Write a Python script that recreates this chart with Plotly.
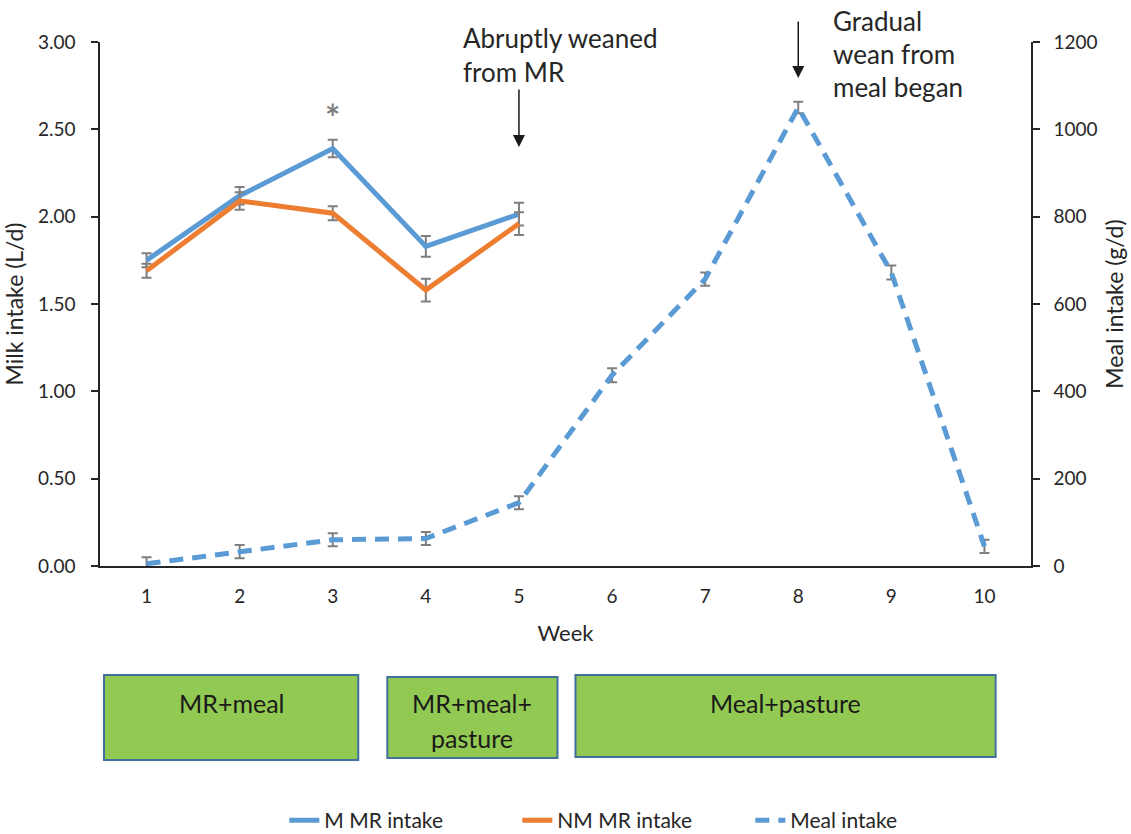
import plotly.graph_objects as go

# Weekly intake data
weeks_mr = [1, 2, 3, 4, 5]
m_mr = [1.75, 2.12, 2.39, 1.83, 2.015]
m_mr_se = [0.04, 0.05, 0.05, 0.06, 0.065]
nm_mr = [1.69, 2.09, 2.02, 1.58, 1.96]
nm_mr_se = [0.04, 0.05, 0.04, 0.065, 0.065]

weeks_meal = [1, 2, 3, 4, 5, 6, 7, 8, 9, 10]
meal = [5, 33, 60, 63, 145, 437, 657, 1050, 672, 45]
meal_se = [15, 15, 15, 15, 15, 16, 15, 13, 16, 15]

week_ticks = [1, 2, 3, 4, 5, 6, 7, 8, 9, 10]
milk_ticks = [0, 0.5, 1.0, 1.5, 2.0, 2.5, 3.0]
meal_ticks = [0, 200, 400, 600, 800, 1000, 1200]

BLUE = "#5B9BD5"
ORANGE = "#ED7D31"
GREY = "#7F7F7F"
TXT = "#262626"
FONT = "Lato"

PLOT_TOP, PLOT_BOTTOM = 42, 566
PLOT_H = PLOT_BOTTOM - PLOT_TOP


def py(pix):
    # vertical pixel position -> fraction of the plotting area height
    return (PLOT_BOTTOM - pix) / PLOT_H


# Feeding phases shown under the chart: week span, top/bottom pixel rows, label lines
phases = [
    (0.543, 3.274, 675, 760, ["MR+meal"]),
    (3.586, 5.414, 677, 758, ["MR+meal+", "pasture"]),
    (5.607, 10.12, 675, 757, ["Meal+pasture"]),
]

fig = go.Figure()

err_style = dict(type="data", color=GREY, thickness=2, width=5)

fig.add_trace(go.Scatter(
    x=weeks_mr, y=m_mr, name="M MR intake", mode="lines",
    line=dict(color=BLUE, width=5),
    error_y=dict(array=m_mr_se, **err_style),
))
fig.add_trace(go.Scatter(
    x=weeks_mr, y=nm_mr, name="NM MR intake", mode="lines",
    line=dict(color=ORANGE, width=5),
    error_y=dict(array=nm_mr_se, **err_style),
))
fig.add_trace(go.Scatter(
    x=weeks_meal, y=meal, name="Meal intake", mode="lines", yaxis="y2",
    line=dict(color=BLUE, width=5, dash="14px,9px"),
    error_y=dict(array=meal_se, **err_style),
))

shapes = []
annotations = []
for x0, x1, top, bottom, lines in phases:
    shapes.append(dict(
        type="rect", xref="x", yref="paper", x0=x0, x1=x1, y0=py(top), y1=py(bottom),
        fillcolor="#92C953", line=dict(color="#41719C", width=2), layer="above",
    ))
    for i, line in enumerate(lines):
        annotations.append(dict(
            x=(x0 + x1) / 2, y=py(703 + 35 * i), xref="x", yref="paper",
            text=line, showarrow=False, xanchor="center", yanchor="middle",
            font=dict(family=FONT, size=25, color="#1a1a1a"),
        ))

# Event markers
note_font = dict(family=FONT, size=26, color=TXT)
annotations += [
    dict(x=3, y=py(117), xref="x", yref="paper", text="<b>*</b>", showarrow=False,
         yanchor="middle", font=dict(family=FONT, size=36, color=GREY)),
    dict(x=4.38, y=py(38), xref="x", yref="paper", text="Abruptly weaned",
         showarrow=False, xanchor="left", yanchor="middle", font=note_font),
    dict(x=4.38, y=py(72), xref="x", yref="paper", text="from MR",
         showarrow=False, xanchor="left", yanchor="middle", font=note_font),
    dict(x=5, y=py(147), xref="x", yref="y domain", text="",
         ax=5, ay=py(88), axref="x", ayref="y domain",
         showarrow=True, arrowhead=2, arrowsize=1.6, arrowwidth=1.5, arrowcolor="#1a1a1a"),
    dict(x=8, y=py(78), xref="x", yref="y domain", text="",
         ax=8, ay=py(20), axref="x", ayref="y domain",
         showarrow=True, arrowhead=2, arrowsize=1.6, arrowwidth=1.5, arrowcolor="#1a1a1a"),
    dict(x=8.35, y=py(21), xref="x", yref="paper", text="Gradual",
         showarrow=False, xanchor="left", yanchor="middle", font=note_font),
    dict(x=8.35, y=py(54), xref="x", yref="paper", text="wean from",
         showarrow=False, xanchor="left", yanchor="middle", font=note_font),
    dict(x=8.35, y=py(87), xref="x", yref="paper", text="meal began",
         showarrow=False, xanchor="left", yanchor="middle", font=note_font),
]

axis_common = dict(
    showgrid=False, zeroline=False, showline=True, linecolor=TXT, linewidth=1.5,
    tickfont=dict(family=FONT, size=19, color=TXT), automargin=False,
)

fig.update_layout(
    width=1131, height=834,
    margin=dict(l=100, r=100, t=PLOT_TOP, b=834 - PLOT_BOTTOM, autoexpand=False),
    plot_bgcolor="white", paper_bgcolor="white",
    font=dict(family=FONT, color=TXT),
    xaxis=dict(
        range=[0.5, 10.5], tickvals=week_ticks, ticks="", ticklabelstandoff=12,
        title=dict(text="Week", font=dict(family=FONT, size=22, color=TXT), standoff=20),
        **axis_common,
    ),
    yaxis=dict(
        range=[0, 3], tickvals=milk_ticks, tickformat=".2f", ticks="outside",
        ticklen=7, tickcolor=TXT, tickwidth=1.5, ticklabelstandoff=12,
        title=dict(text="Milk intake (L/d)", font=dict(family=FONT, size=23, color=TXT), standoff=12),
        **axis_common,
    ),
    yaxis2=dict(
        range=[0, 1200], tickvals=meal_ticks, overlaying="y", side="right",
        ticks="outside", ticklen=7, tickcolor=TXT, tickwidth=1.5, ticklabelstandoff=10,
        title=dict(text="Meal intake (g/d)", font=dict(family=FONT, size=23, color=TXT), standoff=10),
        **axis_common,
    ),
    legend=dict(
        orientation="h", x=0.198, xanchor="left", y=py(841), yanchor="bottom",
        font=dict(family=FONT, size=21, color=TXT), entrywidth=188, entrywidthmode="pixels",
    ),
    shapes=shapes,
    annotations=annotations,
)

fig.write_html("out.html")
